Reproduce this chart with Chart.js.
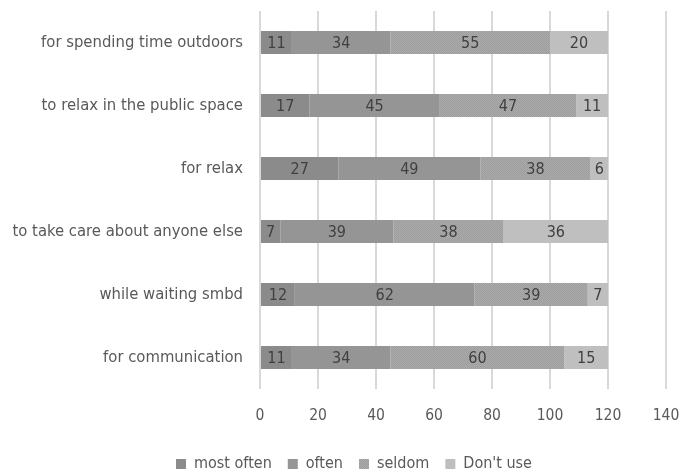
<!DOCTYPE html>
<html>
<head>
<meta charset="utf-8">
<script src="https://cdn.jsdelivr.net/npm/chart.js@4"></script>
<style>
  html, body { margin: 0; padding: 0; background: #fff; }
  #wrap { width: 694px; height: 475px; }
</style>
</head>
<body>
<div id="wrap"><canvas id="myChart" width="694" height="475"></canvas></div>
<script>
const categories = [
  'for spending time outdoors',
  'to relax in the public space',
  'for relax',
  'to take care about anyone else',
  'while waiting smbd',
  'for communication'
];
const mostOften = [11, 17, 27, 7, 12, 11];
const often = [34, 45, 49, 39, 62, 34];
const seldom = [55, 47, 38, 38, 39, 60];
const dontUse = [20, 11, 6, 36, 7, 15];
const xTicks = [0, 20, 40, 60, 80, 100, 120, 140];

const FONT = "'DejaVu Sans Condensed', 'Liberation Sans Narrow', sans-serif";

// dotted texture for "seldom"
function dotted() {
  const c = document.createElement('canvas');
  c.width = 2; c.height = 2;
  const g = c.getContext('2d');
  g.fillStyle = '#ababab';
  g.fillRect(0, 0, 2, 2);
  g.fillStyle = '#9d9d9d';
  g.fillRect(0, 0, 1, 1);
  g.fillRect(1, 1, 1, 1);
  return g.createPattern(c, 'repeat');
}

const segmentLabels = {
  id: 'segmentLabels',
  afterDatasetsDraw(chart) {
    const ctx = chart.ctx;
    ctx.save();
    ctx.font = '16px ' + FONT;
    ctx.fillStyle = '#404040';
    ctx.textAlign = 'center';
    ctx.textBaseline = 'middle';
    chart.data.datasets.forEach((ds, i) => {
      chart.getDatasetMeta(i).data.forEach((bar, j) => {
        ctx.fillText(ds.data[j], (bar.x + bar.base) / 2, bar.y + 1);
      });
    });
    ctx.restore();
  }
};

// nudge the legend to where the original has it
const legendShift = {
  id: 'legendShift',
  afterLayout(chart) {
    const lg = chart.legend;
    lg.left += 21; lg.right += 21;
    lg.top += 9; lg.bottom += 9;
  }
};

function createChart() {
  const ctx = document.getElementById('myChart').getContext('2d');
  new Chart(ctx, {
    type: 'bar',
    data: {
      labels: categories,
      datasets: [
        { label: 'most often', data: mostOften, backgroundColor: '#8b8b8b' },
        { label: 'often', data: often, backgroundColor: '#959595' },
        { label: 'seldom', data: seldom, backgroundColor: dotted() },
        { label: "Don't use", data: dontUse, backgroundColor: '#bfbfbf' }
      ]
    },
    options: {
      indexAxis: 'y',
      responsive: false,
      animation: false,
      categoryPercentage: 1,
      barPercentage: 0.365,
      layout: { padding: { top: 11, right: 28, left: 0, bottom: 2 } },
      plugins: {
        legend: {
          position: 'bottom',
          labels: {
            boxWidth: 10,
            boxHeight: 10,
            padding: 16,
            color: '#595959',
            font: { family: FONT, size: 16 }
          }
        },
        tooltip: { enabled: false }
      },
      scales: {
        x: {
          stacked: true,
          min: 0,
          max: 140,
          afterBuildTicks: axis => { axis.ticks = xTicks.map(v => ({ value: v })); },
          grid: { color: '#d9d9d9', lineWidth: 2, drawTicks: false },
          border: { display: false },
          ticks: {
            color: '#595959',
            padding: 18,
            font: { family: FONT, size: 15.5 }
          },
          afterFit: axis => {
            axis.height = 42;
            axis.paddingLeft = 0;
            axis.paddingRight = 0;
          }
        },
        y: {
          stacked: true,
          grid: { display: false },
          border: { display: false },
          ticks: {
            color: '#595959',
            padding: 9,
            font: { family: FONT, size: 16.5 }
          },
          afterFit: axis => {
            axis.width = 260;
            axis.paddingTop = 0;
            axis.paddingBottom = 0;
          }
        }
      }
    },
    plugins: [segmentLabels, legendShift]
  });
}

window.onload = createChart;
</script>
</body>
</html>
